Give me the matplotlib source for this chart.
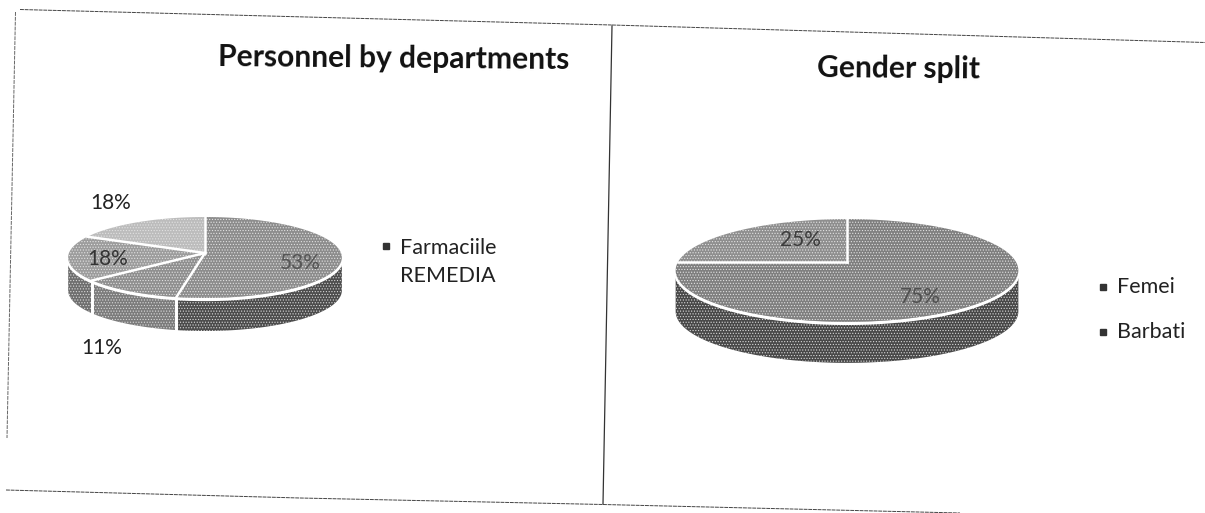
import numpy as np
import matplotlib
matplotlib.use("Agg")
import matplotlib.pyplot as plt

dept_values = [53, 11, 18, 18]
dept_top = ["#8c8c8c", "#8f8f8f", "#9c9c9c", "#bcbcbc"]
dept_wall = ["#4c4c4c", "#7c7c7c", "#6e6e6e", "#909090"]
dept_legend = ["Farmaciile\nREMEDIA"]

gender_values = [75, 25]
gender_top = ["#7f7f7f", "#8e8e8e"]
gender_wall = ["#484848", "#707070"]
gender_legend = ["Femei", "Barbati"]

plt.rcParams["font.family"] = ["Lato", "DejaVu Sans"]
plt.rcParams["hatch.linewidth"] = 0.5

fig = plt.figure(figsize=(12.05, 5.13), dpi=100)
ax = fig.add_axes([0, 0, 1, 1])
ax.set_xlim(0, 1205)
ax.set_ylim(513, 0)
ax.axis("off")


def rim(t, cx, cy, b, a, k):
    # clockwise from the top, with a bit of perspective on the disc
    u, v = np.sin(t), np.cos(t)
    d = 1 + k * v
    return cx + b * u / d, cy - a * v / d


def draw_pie(values, tops, walls, cx, cy, b, a, k, depth):
    edges = np.radians(np.cumsum([0] + values) * 3.6)
    lim = np.arccos(-k)
    vis0, vis1 = lim, 2 * np.pi - lim

    # side wall first
    for i in range(len(values)):
        t0, t1 = max(edges[i], vis0), min(edges[i + 1], vis1)
        if t1 <= t0:
            continue
        t = np.linspace(t0, t1, 80)
        x, y = rim(t, cx, cy, b, a, k)
        ax.fill(np.r_[x, x[::-1]], np.r_[y, y[::-1] + depth], facecolor=walls[i],
                edgecolor="#d8d8d8", hatch="......", linewidth=0, zorder=2)
        for tt in (t0, t1):
            if vis0 < tt < vis1:
                px, py = rim(tt, cx, cy, b, a, k)
                ax.plot([px, px], [py, py + depth], color="white", lw=2, zorder=3)

    # white band between top and wall
    t = np.linspace(vis0 - 0.08, vis1 + 0.08, 200)
    x, y = rim(t, cx, cy, b, a, k)
    ax.plot(x, y + 1.5, color="white", lw=2.4, zorder=4)

    # top face
    for i in range(len(values)):
        t = np.linspace(edges[i], edges[i + 1], 120)
        x, y = rim(t, cx, cy, b, a, k)
        ax.fill(np.r_[cx, x], np.r_[cy, y], facecolor=tops[i], edgecolor="#e2e2e2",
                hatch="......", linewidth=0, zorder=5)
    for e in edges[:-1]:
        px, py = rim(e, cx, cy, b, a, k)
        ax.plot([cx, px], [cy, py], color="white", lw=1.8, zorder=6,
                solid_capstyle="projecting")


draw_pie(dept_values, dept_top, dept_wall, 205, 253, 136, 40, 0.111, 33)
draw_pie(gender_values, gender_top, gender_wall, 847, 262, 169, 50, 0.165, 41)

# scan frame
frame = dict(color="#444444", lw=0.7, ls=(0, (4, 0.8)), zorder=1)
ax.plot([20, 612], [9.5, 25], **frame)
ax.plot([612, 1205], [25, 42.5], **frame)
ax.plot([15.5, 7], [12, 438], color="#666666", lw=0.7, ls=(0, (4, 1)), zorder=1)
ax.plot([612, 603], [26, 504], color="#333333", lw=0.9, zorder=1)
ax.plot([6, 300, 603], [490, 498, 504.5], **frame)
ax.plot([603, 960], [504.5, 513], **frame)

# titles
ax.text(394, 59, "Personnel by departments", fontsize=21.6, fontweight="bold",
        ha="center", va="center", color="#111111", rotation=-0.5, zorder=8)
ax.text(899, 69, "Gender split", fontsize=21.6, fontweight="bold",
        ha="center", va="center", color="#111111", rotation=-0.5, zorder=8)

# percent labels
dept_label_pos = [(300, 263), (102, 348), (108, 259), (111, 203)]
dept_label_col = ["#555555", "#222222", "#333333", "#222222"]
for val, (px, py), col in zip(dept_values, dept_label_pos, dept_label_col):
    ax.text(px, py, f"{val}%", fontsize=15, ha="center", va="center",
            color=col, zorder=8)
gender_label_pos = [(920, 297), (800, 240)]
gender_label_col = ["#505050", "#3c3c3c"]
for val, (px, py), col in zip(gender_values, gender_label_pos, gender_label_col):
    ax.text(px, py, f"{val}%", fontsize=15, ha="center", va="center",
            color=col, zorder=8)

# legends
ax.plot([386], [246], marker="s", ms=4.5, color="#333333", ls="none", zorder=8)
ax.text(400, 262, dept_legend[0], fontsize=15.5, ha="left", va="center",
        linespacing=1.45, color="#222222", zorder=8)
for name, my in zip(gender_legend, [287, 332]):
    ax.plot([1103], [my], marker="s", ms=4.5, color="#333333", ls="none", zorder=8)
    ax.text(1117, my, name, fontsize=15.5, ha="left", va="center",
            color="#222222", zorder=8)

fig.savefig("out.png", dpi=100, facecolor="white")
